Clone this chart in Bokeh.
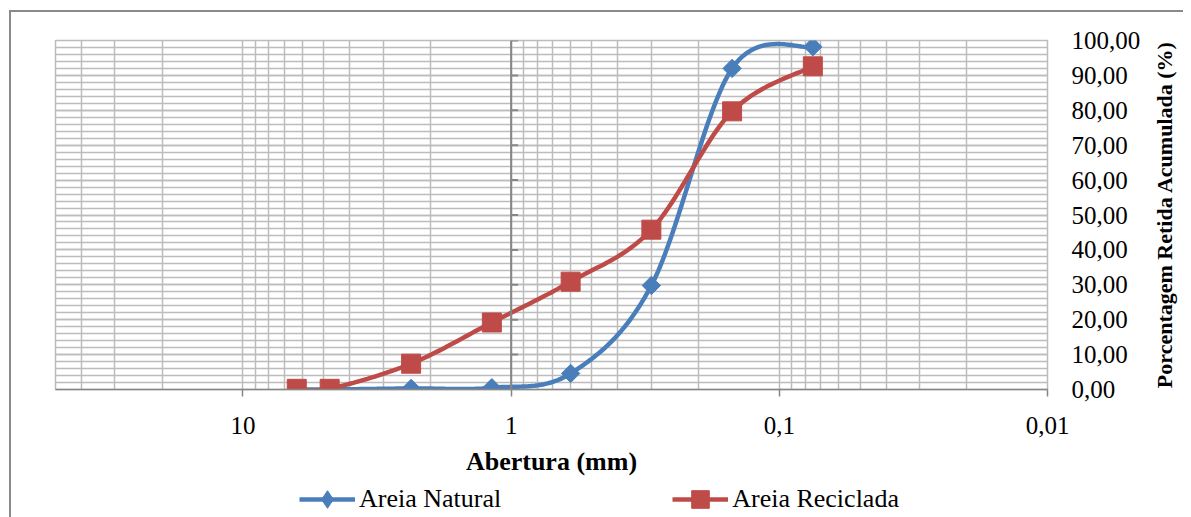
import numpy as np
from bokeh.plotting import figure
from bokeh.layouts import column, row
from bokeh.models import (Range1d, FixedTicker, CustomJSTickFormatter, Legend,
                          LegendItem, SingleIntervalTicker, Span, Label)
from bokeh.embed import file_html
from bokeh.resources import INLINE

# ---- data -------------------------------------------------------------
aberturas = [6.3, 4.75, 2.36, 1.18, 0.6, 0.3, 0.15, 0.075]          # mm
areia_natural = [0.0, 0.0, 0.3, 0.5, 4.6, 29.8, 92.0, 98.2]         # %
areia_reciclada = [0.2, 0.2, 7.4, 19.2, 30.9, 45.8, 79.7, 92.6]     # %
x_major_ticks = [10, 1, 0.1, 0.01]
y_major_ticks = [0, 10, 20, 30, 40, 50, 60, 70, 80, 90, 100]
x_label = "Abertura (mm)"
y_label = "Porcentagem Retida Acumulada (%)"
series_names = ["Areia Natural", "Areia Reciclada"]

x_minor_ticks = [m * 10.0 ** e for e in (1, 0, -1, -2) for m in range(2, 10)
                 if m * 10.0 ** e <= 50]

FONT = "Liberation Serif"
GRID = "#bcbcbc"
AXIS = "#868686"
BLUE = "#4A7EBB"
RED = "#BE4B48"

X_MAX, X_MIN = 50, 0.01
FRAME_W, FRAME_H = 992, 349
B_LEFT, B_TOP, B_RIGHT, B_BOTTOM = 44, 28, 100, 88
MAIN_W = B_LEFT + FRAME_W + B_RIGHT
MAIN_H = B_TOP + FRAME_H + B_BOTTOM
TITLE_W = 36
LEG_H = 40


def smooth(xs, ys, n=24):
    """Catmull-Rom curve through the data points in (log10 x, y) space."""
    lx = np.log10(np.asarray(xs, float))
    yy = np.asarray(ys, float)
    P = np.column_stack([lx, yy])
    P = np.vstack([P[0], P, P[-1]])
    out = []
    t = np.linspace(0, 1, n, endpoint=False)
    for i in range(1, len(P) - 2):
        p0, p1, p2, p3 = P[i - 1], P[i], P[i + 1], P[i + 2]
        c1 = p1 + (p2 - p0) / 6.0
        c2 = p2 - (p3 - p1) / 6.0
        for tt in t:
            b = ((1 - tt) ** 3) * p1 + 3 * ((1 - tt) ** 2) * tt * c1 + \
                3 * (1 - tt) * tt ** 2 * c2 + tt ** 3 * p2
            out.append(b)
    out.append(P[-2])
    out = np.array(out)
    return 10 ** out[:, 0], out[:, 1]


px_per_decade = FRAME_W / (np.log10(X_MAX) - np.log10(X_MIN))

p = figure(x_axis_type="log", x_range=Range1d(X_MAX, X_MIN), y_range=Range1d(0, 100),
           y_axis_location="right", frame_width=FRAME_W, frame_height=FRAME_H,
           min_border_left=B_LEFT, min_border_top=B_TOP, min_border_right=B_RIGHT,
           min_border_bottom=B_BOTTOM, output_backend="svg", toolbar_location=None,
           background_fill_color="white", border_fill_color="white")
p.outline_line_color = GRID
p.outline_line_width = 1.5

# grids
p.xgrid.ticker = FixedTicker(ticks=x_major_ticks, minor_ticks=x_minor_ticks)
p.xgrid.grid_line_color = GRID
p.xgrid.grid_line_width = 1.5
p.xgrid.minor_grid_line_color = GRID
p.xgrid.minor_grid_line_width = 1.5
p.ygrid.ticker = SingleIntervalTicker(interval=10, num_minor_ticks=5)
p.ygrid.grid_line_color = GRID
p.ygrid.grid_line_width = 1.5
p.ygrid.minor_grid_line_color = GRID
p.ygrid.minor_grid_line_width = 1.5

# x axis
xa = p.xaxis[0]
xa.ticker = FixedTicker(ticks=x_major_ticks, minor_ticks=[])
xa.formatter = CustomJSTickFormatter(code="return tick.toString().replace('.', ',');")
xa.axis_line_color = AXIS
xa.axis_line_width = 1.5
xa.major_tick_line_color = AXIS
xa.major_tick_line_width = 1.5
xa.major_tick_in = 0
xa.major_tick_out = 7
xa.minor_tick_line_color = None
xa.major_label_standoff = 20
xa.major_label_text_font = FONT
xa.major_label_text_font_size = "25px"
xa.major_label_text_color = "black"
xa.axis_label = x_label
xa.axis_label_text_font = FONT
xa.axis_label_text_font_size = "26px"
xa.axis_label_text_font_style = "bold"
xa.axis_label_text_color = "black"
xa.axis_label_standoff = 10

# y axis (right)
ya = p.yaxis[0]
ya.ticker = FixedTicker(ticks=y_major_ticks)
ya.formatter = CustomJSTickFormatter(code="return tick.toFixed(2).replace('.', ',');")
ya.axis_line_color = None
ya.major_tick_line_color = None
ya.minor_tick_line_color = None
ya.major_label_standoff = 18
ya.major_label_text_font = FONT
ya.major_label_text_font_size = "25px"
ya.major_label_text_color = "black"

# vertical value axis crossing at x = 1
p.add_layout(Span(location=1, dimension="height", line_color=AXIS, line_width=2))
tick_end = 10 ** (-7 / px_per_decade)
p.segment(x0=[1] * len(y_major_ticks), x1=[tick_end] * len(y_major_ticks),
          y0=y_major_ticks, y1=y_major_ticks, line_color=AXIS, line_width=2)

# series
xn, yn = smooth(aberturas, areia_natural)
xr, yr = smooth(aberturas, areia_reciclada)
p.line(xn, yn, line_color=BLUE, line_width=4.5)
p.line(xr, yr, line_color=RED, line_width=4.5)
p.scatter(aberturas, areia_natural, marker="square", angle=np.pi / 4, size=13,
          fill_color=BLUE, line_color=BLUE)
p.scatter(aberturas, areia_reciclada, marker="square", size=19,
          fill_color=RED, line_color=RED)

# ---- right-hand title panel (reads bottom-to-top); its frame aligns with p's
tf = figure(width=TITLE_W, height=MAIN_H, x_range=Range1d(0, TITLE_W),
            y_range=Range1d(0, 1), min_border=0, x_axis_location=None,
            y_axis_location=None, toolbar_location=None, output_backend="svg",
            outline_line_color=None, background_fill_color="white",
            border_fill_color="white")
tf.grid.visible = False
tf.add_layout(Label(x=17, y=0.5, text=y_label, angle=np.pi / 2,
                    text_font=FONT, text_font_size="22px", text_font_style="bold",
                    text_color="black", text_align="center", text_baseline="middle"))

# ---- legend panel -----------------------------------------------------
LEG_W = MAIN_W + TITLE_W
lf = figure(width=LEG_W, height=LEG_H, x_range=Range1d(0, 1), y_range=Range1d(0, 1),
            min_border=0, x_axis_location=None, y_axis_location=None,
            toolbar_location=None, output_backend="svg", outline_line_color=None,
            background_fill_color="white", border_fill_color="white")
lf.grid.visible = False
ln = lf.line(x=[5, 6], y=[5, 6], line_color=BLUE, line_width=4.5)
sn = lf.scatter(x=[5], y=[5], marker="diamond", size=13,
                fill_color=BLUE, line_color=BLUE)
lr = lf.line(x=[5, 6], y=[5, 6], line_color=RED, line_width=4.5)
sr = lf.scatter(x=[5], y=[5], marker="square", size=19, fill_color=RED, line_color=RED)
legend = Legend(items=[LegendItem(label=series_names[0], renderers=[ln, sn]),
                       LegendItem(label=series_names[1], renderers=[lr, sr])],
                orientation="horizontal", location=(288, -3), spacing=171,
                glyph_width=56, glyph_height=44, label_standoff=4,
                label_text_font=FONT, label_text_font_size="26px",
                label_text_color="black",
                border_line_color=None, background_fill_alpha=0,
                padding=2, margin=0)
lf.add_layout(legend, "center")

layout = column(row(p, tf, spacing=0), lf, spacing=0)
layout.styles = {"border-left": "2px solid #8a8a8a", "border-top": "2px solid #8a8a8a",
                 "margin-left": "9px", "margin-top": "10px"}

open("out.html", "w").write(file_html(layout, INLINE))
